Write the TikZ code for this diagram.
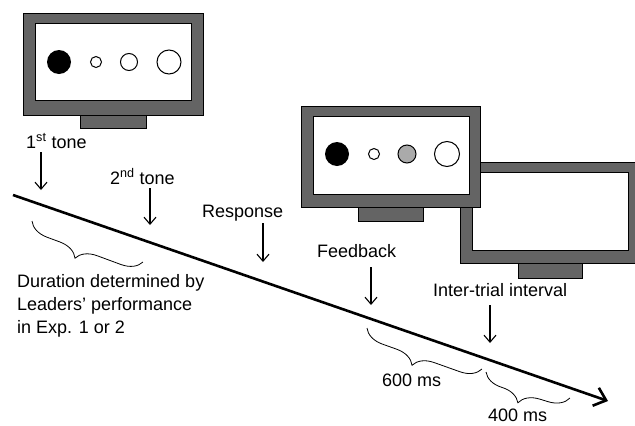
\documentclass[tikz,border=0pt]{standalone}
\usepackage{fontspec}
\setmainfont{Liberation Sans}
\usetikzlibrary{arrows.meta,decorations.pathreplacing}
\definecolor{monitorgray}{HTML}{646464}
\definecolor{dotgray}{HTML}{AAAAAA}
\begin{document}
\begin{tikzpicture}[x=1pt,y=-1pt,
  frame/.style={fill=monitorgray, draw=black, line width=0.9pt},
  screen/.style={fill=white, draw=black, line width=0.9pt},
  dot/.style={draw=black, line width=1pt},
  lbl/.style={font=\fontsize{18}{23}\selectfont, inner sep=0pt, anchor=base west, align=left},
  cue/.style={-{Straight Barb[length=7pt,width=12pt]}, line width=1.1pt},
  timeline/.style={-{Straight Barb[length=11pt,width=19pt]}, line width=2.6pt},
  span/.style={decorate, decoration={brace, mirror, amplitude=20pt, aspect=0.45}, line width=0.8pt}
]
\useasboundingbox (0,0) rectangle (635,426);

% --- blank monitor (inter-trial interval), drawn first so it sits behind
\draw[frame] (518,263) rectangle (582,278);
\draw[frame] (460,162) rectangle (637,263);
\draw[screen] (472,172) rectangle (628,250);

% --- first monitor (stimulus display)
\draw[frame] (80,115) rectangle (146,128);
\draw[frame] (23,13) rectangle (203,115);
\draw[screen] (35,23) rectangle (191,100);
\fill[black] (59,62) circle[radius=12pt];
\draw[dot] (96,62) circle[radius=5.5pt];
\draw[dot] (129,62) circle[radius=8.5pt];
\draw[dot] (169,62) circle[radius=12pt];

% --- feedback monitor
\draw[frame] (358,207) rectangle (423,221);
\draw[frame] (301,106) rectangle (480,207);
\draw[screen] (313,116) rectangle (469,194);
\fill[black] (337,154) circle[radius=12pt];
\draw[dot] (374,154) circle[radius=5.5pt];
\draw[dot, fill=dotgray] (407,154) circle[radius=9pt];
\draw[dot] (447,154) circle[radius=12.5pt];

% --- time axis
\coordinate (t0) at (13,195);
\coordinate (t1) at (608,401);
\draw[timeline] (t0) -- (t1);

% --- event labels with their cue arrows
\node[lbl] (tone1) at (26,148) {1\textsuperscript{st} tone};
\coordinate (c1a) at (41,152); \coordinate (c1b) at (41,190);
\draw[cue] (c1a) -- (c1b);

\node[lbl] (tone2) at (110,184) {2\textsuperscript{nd} tone};
\coordinate (c2a) at (150,188); \coordinate (c2b) at (150,225);
\draw[cue] (c2a) -- (c2b);

\node[lbl] (resp) at (202,217) {Response};
\coordinate (c3a) at (263,223); \coordinate (c3b) at (263,262);
\draw[cue] (c3a) -- (c3b);

\node[lbl] (fb) at (317,257) {Feedback};
\coordinate (c4a) at (371,267); \coordinate (c4b) at (371,305);
\draw[cue] (c4a) -- (c4b);

\node[lbl] (iti) at (433,296) {Inter-trial interval};
\coordinate (c5a) at (490,305); \coordinate (c5b) at (490,343);
\draw[cue] (c5a) -- (c5b);

% --- duration braces (drawn with an upright y axis so the decoration is not flipped)
\coordinate (b1a) at (32,221); \coordinate (b1b) at (143,262);
\coordinate (b2a) at (367,328); \coordinate (b2b) at (482,369);
\coordinate (b3a) at (486,372); \coordinate (b3b) at (570,398);
\begin{scope}[y=1pt]
  \draw[span] (b1a) -- (b1b);
  \draw[span] (b2a) -- (b2b);
  \draw[span] (b3a) -- (b3b);
\end{scope}

% multi-line label: base anchor sits on the last line
\node[lbl] (dur) at (17,333) {Duration determined by\\Leaders’ performance\\in Exp. 1 or 2};
\node[lbl] (d600) at (382,386) {600 ms};
\node[lbl] (d400) at (488,421) {400 ms};
\end{tikzpicture}
\end{document}
